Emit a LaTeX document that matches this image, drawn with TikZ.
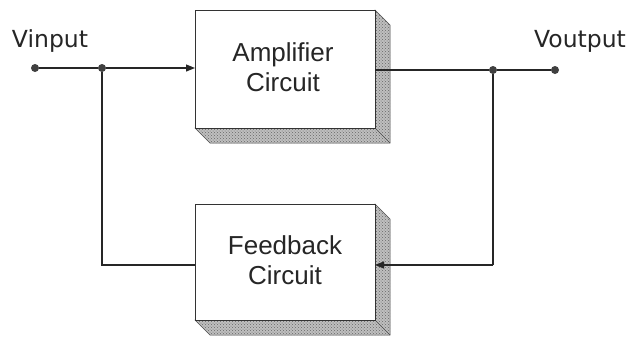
\documentclass[tikz,border=0pt]{standalone}
\usepackage{fontspec}
\setmainfont{Liberation Sans}
\newfontfamily\labelfont{DejaVu Sans}
\usetikzlibrary{arrows.meta,patterns}
\begin{document}
\begin{tikzpicture}[x=1pt,y=-1pt,
  wire/.style={line width=1.1pt,draw=black!85},
  arr/.style={wire,-{Triangle[length=9pt,width=7pt]}},
  dot/.style={circle,fill=black!75,inner sep=0pt,minimum size=8pt},
  face/.style={draw=black!80,line width=0.7pt,fill=white},
  shade/.style={draw=black!70,line width=0.5pt,fill=gray!50},
  dots/.style={pattern=crosshatch dots,pattern color=black!60},
  boxtext/.style={font=\fontsize{26}{30}\selectfont,text=black!85,align=center},
  lbl/.style={font=\labelfont\fontsize{23.5}{26}\selectfont,text=black!85}]
\useasboundingbox (0,0) rectangle (630,341);
\fill[white] (0,0) rectangle (630,341);
\foreach \xa/\ya/\xb/\yb in {195/10/375/128, 195/204/375/320}{
  \path[shade] (\xa,\yb) -- (\xb,\yb) -- (\xb,\ya) -- (\xb+15,\ya+15) -- (\xb+15,\yb+15) -- (\xa+15,\yb+15) -- cycle;
  \path[dots] (\xa,\yb) -- (\xb,\yb) -- (\xb,\ya) -- (\xb+15,\ya+15) -- (\xb+15,\yb+15) -- (\xa+15,\yb+15) -- cycle;
  \draw[black!70,line width=0.5pt] (\xb,\yb) -- (\xb+15,\yb+15);
}
\node[face,minimum width=180pt,minimum height=118pt,anchor=north west,inner sep=0pt] (amp) at (195,10) {};
\node[boxtext] (amptxt) at (283,67) {Amplifier\\Circuit};
\node[face,minimum width=180pt,minimum height=116pt,anchor=north west,inner sep=0pt] (fb) at (195,204) {};
\node[boxtext] (fbtxt) at (285,260) {Feedback\\Circuit};
\node[dot] (vin) at (35,68) {};
\node[dot] (j1) at (102,68) {};
\node[dot] (j2) at (493,70) {};
\node[dot] (vout) at (555,70) {};
\coordinate (c1) at (102,265);
\coordinate (c2) at (493,265);
\coordinate (ampin) at (195,68);
\coordinate (ampout) at (375,70);
\coordinate (fbin) at (375,265);
\coordinate (fbout) at (195,265);
\node[lbl] (lin) at (50,41) {Vinput};
\node[lbl] (lout) at (580,41) {Voutput};
\draw[wire] (vin) -- (j1);
\draw[arr] (j1) -- (ampin);
\draw[wire] (j1) -- (c1) -- (fbout);
\draw[wire] (ampout) -- (j2) -- (vout);
\draw[wire] (j2) -- (c2);
\draw[arr] (c2) -- (fbin);
\end{tikzpicture}
\end{document}
